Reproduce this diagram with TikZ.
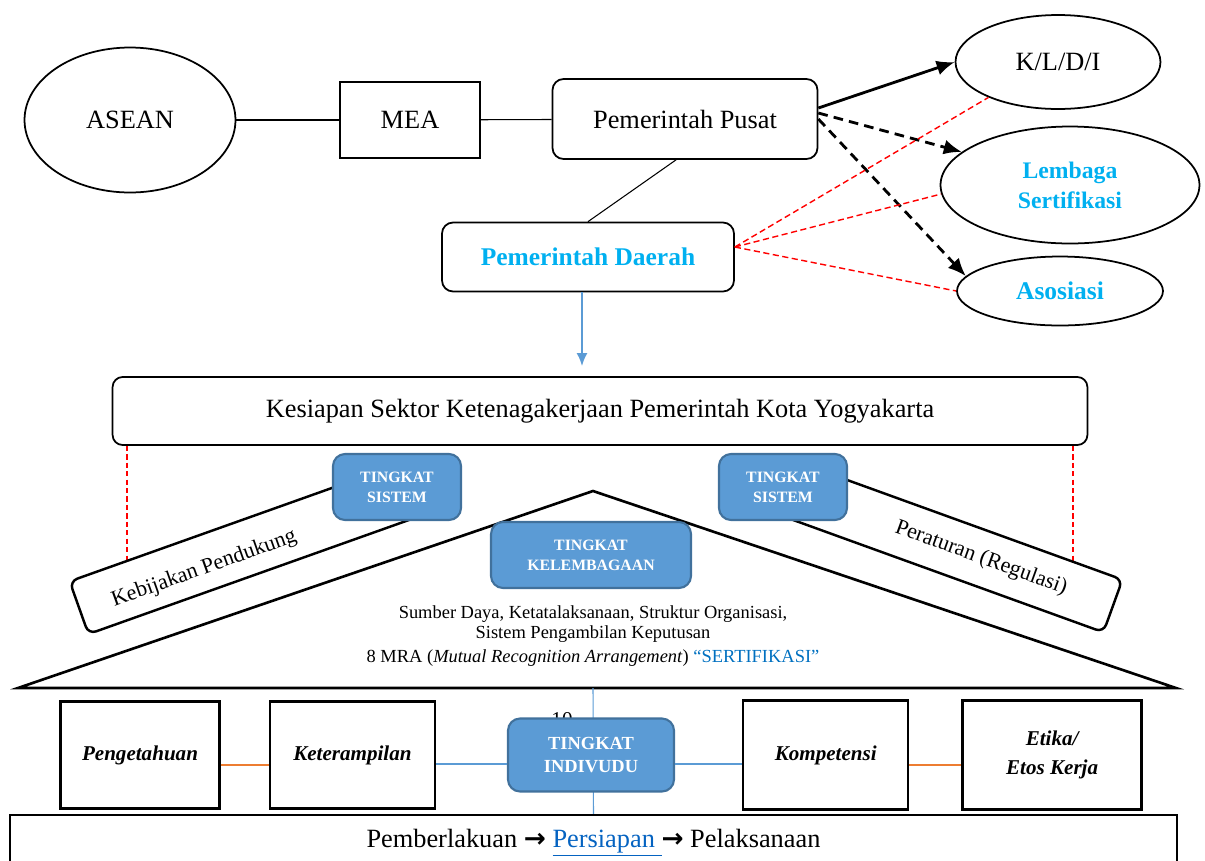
\documentclass[tikz,border=0pt]{standalone}
\usepackage{fontspec}
\setmainfont{Liberation Serif}
\newfontfamily\arrowfont{DejaVu Sans}
\usepackage{xcolor}
\usetikzlibrary{arrows, arrows.meta}
\usetikzlibrary{shapes, positioning, calc}

\definecolor{tingkatfill}{HTML}{5B9BD5}
\definecolor{tingkatdraw}{HTML}{41719C}
\definecolor{cyantext}{HTML}{00B0F0}
\definecolor{sertblue}{HTML}{0070C0}
\definecolor{linkblue}{HTML}{0563C1}
\definecolor{orangeline}{HTML}{ED7D31}
\definecolor{redline}{HTML}{FF0000}

\begin{document}
\begin{tikzpicture}[x=0.02cm, y=-0.02cm, >={Latex[length=0.36cm,width=0.3cm]}, line width=1pt,
  oval node/.style={ellipse, draw, inner sep=0pt, font=\fontsize{15}{18}\selectfont},
  sq node/.style={rectangle, draw, inner sep=0pt, font=\fontsize{15}{18}\selectfont},
  main node/.style={rectangle, rounded corners=0.22cm, draw, inner sep=0pt, font=\fontsize{15}{18}\selectfont},
  level node/.style={rectangle, rounded corners=0.24cm, draw=tingkatdraw, fill=tingkatfill, text=white, line width=1.2pt, align=center, inner sep=0pt, font=\fontsize{9}{11.4}\selectfont\bfseries},
  bar node/.style={rectangle, rounded corners=0.16cm, draw, fill=white, line width=1.4pt, minimum height=1.12cm},
  bar text/.style={inner sep=0pt, font=\fontsize{12.5}{15}\selectfont},
  item node/.style={rectangle, draw, line width=1.4pt, inner sep=0pt, align=center, minimum height=2.14cm, font=\fontsize{12}{16.5}\selectfont\bfseries\itshape},
  red link/.style={draw=redline, dash pattern=on 3.5pt off 2pt, line width=0.8pt},
  bold link/.style={->, line width=1.6pt}]
  \useasboundingbox (0,0) rectangle (1205,860);

  % pusat dan daerah
  \node[oval node, minimum width=4.22cm, minimum height=2.9cm] (asean) at (130,120) {ASEAN};
  \node[sq node, minimum width=2.8cm, minimum height=1.52cm, line width=1.3pt] (mea) at (410,120) {MEA};
  \node[main node, minimum width=5.3cm, minimum height=1.6cm] (pusat) at (685,119) {Pemerintah Pusat};
  \node[main node, minimum width=5.84cm, minimum height=1.38cm, text=cyantext, font=\fontsize{14.5}{17}\selectfont\bfseries] (daerah) at (588,257) {Pemerintah Daerah};

  \node[oval node, minimum width=4.1cm, minimum height=1.88cm] (kldi) at (1058,62) {K/L/D/I};
  \node[oval node, minimum width=5.18cm, minimum height=2.34cm, text=cyantext, align=center, font=\fontsize{13.5}{17}\selectfont\bfseries] (lembaga) at (1070,185) {Lembaga\\Sertifikasi};
  \node[oval node, minimum width=4.12cm, minimum height=1.38cm, text=cyantext, font=\fontsize{14.5}{17}\selectfont\bfseries] (asosiasi) at (1060,291) {Asosiasi};

  \path[line width=0.6pt] (asean) edge (mea) (mea) edge (pusat);
  \draw[line width=0.6pt] (daerah.north) -- ([xshift=-0.18cm]pusat.south);
  \draw[bold link] ([yshift=0.22cm]pusat.east) -- (kldi.west);
  \draw[bold link, dash pattern=on 5.5pt off 3.5pt] ([yshift=0.12cm]pusat.east) -- (lembaga.163);
  \draw[bold link, dash pattern=on 5.5pt off 3.5pt] (pusat.east) -- (asosiasi.171);

  \draw[red link] ([yshift=0.2cm]daerah.east) -- (kldi.207);
  \draw[red link] ([yshift=0.2cm]daerah.east) -- (lembaga.184);
  \draw[red link] ([yshift=0.2cm]daerah.east) -- (asosiasi.west);

  \node[main node, minimum width=19.5cm, minimum height=1.36cm, rounded corners=0.2cm] (kesiapan) at (600,411) {Kesiapan Sektor Ketenagakerjaan Pemerintah Kota Yogyakarta};
  \draw[->, >={Latex[length=0.26cm,width=0.22cm]}, tingkatfill, line width=1.2pt] ($(daerah.south)+(-6,0)$) -- ($(daerah.south |- kesiapan.north)+(-6,-10)$);

  % atap
  \draw[line width=1.5pt, line join=miter] (18,688) -- (593,491) -- (1176,688) -- cycle;
  \coordinate (kiriEnd) at (127,560);
  \coordinate (kananEnd) at (1073,564);
  \draw[red link, line width=1pt, dash pattern=on 3pt off 1.8pt] (kesiapan.south west -| kiriEnd) -- (kiriEnd);
  \draw[red link, line width=1pt, dash pattern=on 3pt off 1.8pt] (kesiapan.south east -| kananEnd) -- (kananEnd);

  \node[bar node, minimum width=7.6cm, rotate=19.6] (kebijakan) at (258,544) {};
  \node[bar text, rotate=19.6] (kebijakanText) at ($(kebijakan.center)!0.31!(kebijakan.west)+(2,5)$) {Kebijakan Pendukung};
  \node[bar node, minimum width=7.4cm, rotate=-19.9] (peraturan) at (939,543) {};
  \node[bar text, rotate=-19.9] (peraturanText) at ($(peraturan.center)!0.24!(peraturan.east)$) {Peraturan (Regulasi)};

  \node[level node, minimum width=2.56cm, minimum height=1.32cm] (sistemL) at (397,487) {TINGKAT\\SISTEM};
  \node[level node, minimum width=2.56cm, minimum height=1.32cm] (sistemR) at (783,487) {TINGKAT\\SISTEM};
  \node[level node, minimum width=4cm, minimum height=1.32cm] (kelembagaan) at (591,555) {TINGKAT\\KELEMBAGAAN};

  \node[align=center, inner sep=0pt, font=\fontsize{10.5}{11.4}\selectfont] (sumber) at (593,636) {Sumber Daya, Ketatalaksanaan, Struktur Organisasi,\\Sistem Pengambilan Keputusan\\[2pt]8 MRA (\textit{Mutual Recognition Arrangement}) \textcolor{sertblue}{“SERTIFIKASI”}};

  % dasar
  \coordinate (baseMid) at (593,688);
  \node[sq node, minimum width=23.34cm, minimum height=1.12cm, line width=1.3pt] (dasar) at (593.5,843) {Pemberlakuan {\arrowfont\bfseries →} \textcolor{linkblue}{\underline{Persiapan\ }}{\arrowfont\bfseries →} Pelaksanaan};
  \draw[tingkatfill, line width=0.6pt] (baseMid) -- (dasar.north);
  \node[inner sep=0pt, font=\fontsize{12}{14}\selectfont] (halaman) at (562,720) {10};

  \node[level node, minimum width=3.32cm, minimum height=1.46cm, font=\fontsize{10.5}{13}\selectfont\bfseries] (individu) at (591,755) {TINGKAT\\INDIVUDU};
  \node[item node, minimum width=3.18cm] (pengetahuan) at (140,755) {Pengetahuan};
  \node[item node, minimum width=3.3cm, right=0.96cm of pengetahuan] (keterampilan) {Keterampilan};
  \node[item node, minimum width=3.3cm, minimum height=2.18cm, right=1.34cm of individu] (kompetensi) {Kompetensi};
  \node[item node, minimum width=3.58cm, minimum height=2.18cm, right=1.04cm of kompetensi] (etika) {Etika/\\Etos Kerja};

  \draw[orangeline, line width=0.8pt] ([yshift=-0.2cm]pengetahuan.east) -- ([yshift=-0.2cm]keterampilan.west);
  \draw[tingkatfill, line width=0.8pt] ([yshift=-0.18cm]keterampilan.east) -- ([yshift=-0.18cm]individu.west);
  \draw[tingkatfill, line width=0.8pt] ([yshift=-0.18cm]individu.east) -- ([yshift=-0.18cm]kompetensi.west);
  \draw[orangeline, line width=0.8pt] ([yshift=-0.2cm]kompetensi.east) -- ([yshift=-0.2cm]etika.west);
\end{tikzpicture}
\end{document}
